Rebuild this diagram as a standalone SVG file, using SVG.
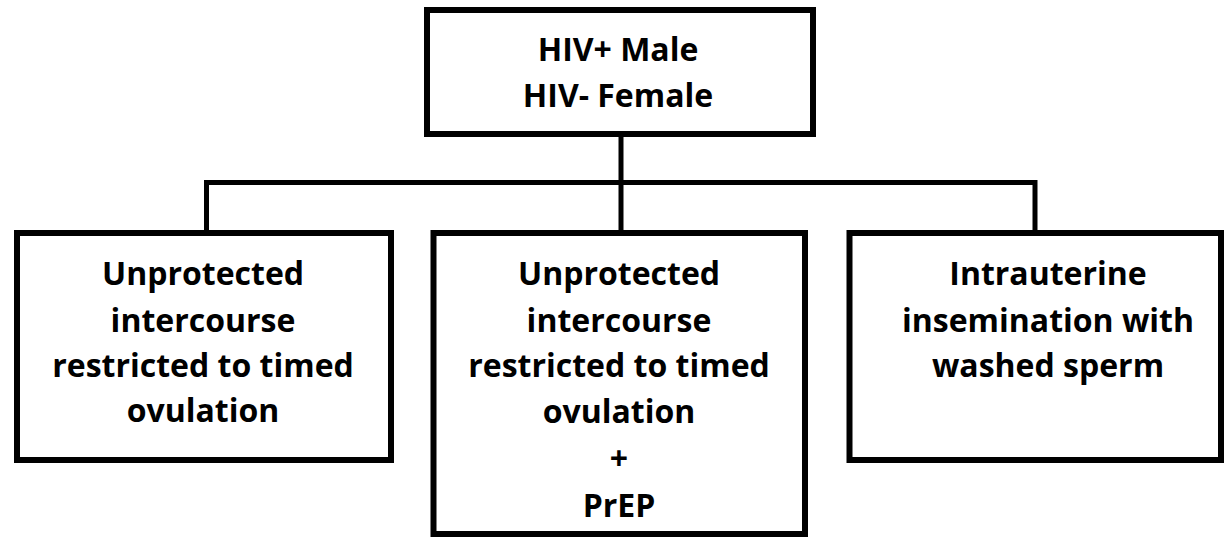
<svg xmlns="http://www.w3.org/2000/svg" width="1224" height="538" viewBox="0 0 1224 538">
<style>
.box{fill:#fff;stroke:#000;stroke-width:6}
.con{fill:none;stroke:#000;stroke-width:5}
text{font-family:"Open Sans",Lato,"Liberation Sans",sans-serif;font-weight:bold;font-size:32px;fill:#000;text-anchor:middle;font-variant-ligatures:none}
</style>
<rect width="1224" height="538" fill="#fff"/>
<g id="connectors">
<line class="con" x1="621" y1="134" x2="621" y2="233"/>
<line class="con" x1="206.5" y1="182.5" x2="1035" y2="182.5"/>
<line class="con" x1="206.5" y1="180" x2="206.5" y2="233"/>
<line class="con" x1="1035" y1="180" x2="1035" y2="233"/>
</g>
<g id="top">
<rect class="box" x="427" y="10" width="386" height="124"/>
<text x="618" y="61">HIV+ Male</text>
<text x="618" y="107">HIV- Female</text>
</g>
<g id="left">
<rect class="box" x="17" y="233" width="374" height="227"/>
<text x="203" y="285">Unprotected</text>
<text x="203" y="332">intercourse</text>
<text x="203" y="377">restricted to timed</text>
<text x="203" y="422">ovulation</text>
</g>
<g id="middle">
<rect class="box" x="433.5" y="233" width="371.5" height="301"/>
<text x="619" y="285">Unprotected</text>
<text x="619" y="332">intercourse</text>
<text x="619" y="377">restricted to timed</text>
<text x="619" y="423">ovulation</text>
<text x="619" y="470">+</text>
<text x="619" y="517">PrEP</text>
</g>
<g id="right">
<rect class="box" x="849.5" y="233" width="371.5" height="227"/>
<text x="1048" y="285">Intrauterine</text>
<text x="1048" y="332">insemination with</text>
<text x="1048" y="377">washed sperm</text>
</g>
</svg>
